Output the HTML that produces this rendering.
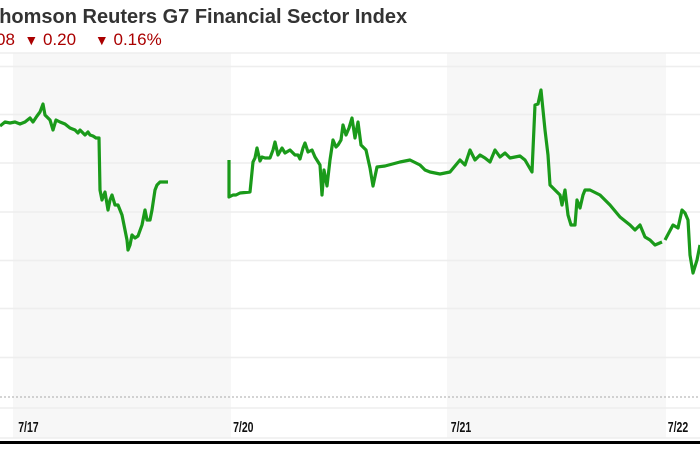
<!DOCTYPE html>
<html><head><style>
html,body{margin:0;padding:0;background:#fff;}
body{width:700px;height:467px;overflow:hidden;position:relative;font-family:"Liberation Sans",Arial,sans-serif;}
.t{position:absolute;left:-13px;top:6px;font-size:20px;font-weight:bold;color:#333;white-space:nowrap;}
.r{position:absolute;left:-4px;top:30px;font-size:17px;color:#a00;white-space:nowrap;}
</style></head><body>
<div class="t">Thomson Reuters G7 Financial Sector Index</div>
<div class="r">08 &nbsp;<span style="font-size:14px">&#9660;</span> 0.20 &nbsp;&nbsp; <span style="font-size:14px">&#9660;</span> 0.16%</div>
<svg width="700" height="467" style="position:absolute;left:0;top:0">
<rect x="13" y="53" width="218" height="385" fill="#f7f7f7"/>
<rect x="447" y="53" width="219" height="385" fill="#f7f7f7"/>
<g stroke="#eeeeee" stroke-width="1.5">
<line x1="0" y1="53" x2="700" y2="53"/>
<line x1="0" y1="66.5" x2="700" y2="66.5"/>
<line x1="0" y1="114.5" x2="700" y2="114.5"/>
<line x1="0" y1="163" x2="700" y2="163"/>
<line x1="0" y1="212" x2="700" y2="212"/>
<line x1="0" y1="260.5" x2="700" y2="260.5"/>
<line x1="0" y1="308.5" x2="700" y2="308.5"/>
<line x1="0" y1="357.5" x2="700" y2="357.5"/>
<line x1="0" y1="408" x2="700" y2="408"/>
<line x1="0" y1="438" x2="700" y2="438"/>
</g>
<line x1="0" y1="397" x2="700" y2="397" stroke="#aaa" stroke-width="1" stroke-dasharray="2,2"/>
<line x1="0" y1="442.5" x2="700" y2="442.5" stroke="#000" stroke-width="3"/>
<g font-family="Liberation Sans, sans-serif" font-size="15" font-weight="bold" fill="#111" transform="scale(0.7,1)">
<text x="26" y="432">7/17</text>
<text x="333" y="432">7/20</text>
<text x="644" y="432">7/21</text>
<text x="954" y="432">7/22</text>
</g>
<g fill="none" stroke="#1a9a1a" stroke-width="3.2" stroke-linejoin="round">
<polyline points="0,126 5,122 10,123 15,122 20,124 25,122 30,118 33,122 37,116 40,112 43,104 45,115 48,118 50,120 53,130 56,120 60,122 65,124 70,128 75,130 78,133 80,130 85,135 88,132 90,135 93,136 96,138 99,138 100,190 102,200 105,192 108,210 110,200 112,195 115,205 118,205 122,215 125,230 127,240 128,250 130,245 132,235 135,238 138,236 142,225 145,210 147,220 150,220 152,210 155,190 157,185 160,182 168,182"/>
<polyline points="229,160 229,197 233,195 236,195 240,193 250,192 253,162 255,158 257,148 260,161 262,157 265,158 270,158 273,150 275,142 278,155 282,148 285,153 290,150 295,155 298,155 300,159 303,148 305,143 308,152 312,150 315,157 320,165 322,195 324,170 327,186 330,160 333,140 336,147 338,145 341,140 343,125 346,135 349,128 352,118 355,138 358,122 361,145 366,150 370,168 373,186 377,167 385,166 400,162 410,160 420,165 425,170 430,172 440,174 450,172 460,160 465,165 470,150 475,160 480,155 485,158 490,162 495,150 500,157 505,153 510,158 520,156 525,160 532,172 535,105 538,104 541,90 545,130 548,155 550,185 555,190 560,195 562,205 565,190 568,215 571,225 575,225 577,200 580,208 583,195 585,190 590,190 600,195 610,205 620,217 630,225 635,230 640,225 645,237 650,240 655,245 662,242"/>
<polyline points="665,240 673,225 678,228 682,210 685,213 688,220 690,255 693,273 697,260 700,245"/>
</g>
</svg>
</body></html>
